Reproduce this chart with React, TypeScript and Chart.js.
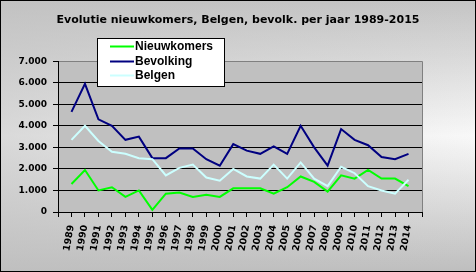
import React, { useEffect, useRef } from "react";
import { Chart, registerables } from "chart.js";

Chart.register(...registerables);

const years = ["1989","1990","1991","1992","1993","1994","1995","1996","1997","1998","1999","2000","2001","2002","2003","2004","2005","2006","2007","2008","2009","2010","2011","2012","2013","2014"];
const nieuwkomers = [1300,1950,1000,1150,700,1000,100,850,900,700,800,700,1100,1100,1100,850,1150,1650,1400,950,1700,1550,1950,1550,1550,1200];
const bevolking = [4650,5950,4300,4000,3350,3500,2500,2500,2950,2950,2450,2150,3150,2850,2700,3050,2700,4000,3000,2150,3850,3350,3100,2550,2450,2700];
const belgen = [3350,4000,3300,2800,2700,2500,2450,1700,2050,2200,1600,1450,2000,1650,1550,2200,1550,2300,1550,1200,2100,1800,1200,1000,850,1500];
const seriesNames = ["Nieuwkomers", "Bevolking", "Belgen"];
const seriesColors = ["#00ff00", "#000080", "#ccffff"];
const titleText = "Evolutie nieuwkomers, Belgen, bevolk. per jaar 1989-2015";

const fmt = (v: number) => String(v).replace(/\B(?=(\d{3})+(?!\d))/g, ".");

const decorPlugin = {
  id: "decor",
  beforeDraw(chart: any) {
    const { ctx, width, height, chartArea: a } = chart;
    ctx.save();
    const g = ctx.createLinearGradient(0, 0, 0, height);
    g.addColorStop(0, "#c4c4c4");
    g.addColorStop(0.5, "#f8f8f8");
    g.addColorStop(1, "#bebebe");
    ctx.fillStyle = g;
    ctx.fillRect(0, 0, width, height);
    const h = ctx.createLinearGradient(0, 0, width, 0);
    h.addColorStop(0, "rgba(192,192,192,0.55)");
    h.addColorStop(1, "rgba(192,192,192,0)");
    ctx.fillStyle = h;
    ctx.fillRect(0, 0, width, height);
    ctx.fillStyle = "#c0c0c0";
    ctx.fillRect(a.left, a.top, a.right - a.left, a.bottom - a.top);
    ctx.restore();
  },
  beforeDatasetsDraw(chart: any) {
    const { ctx, chartArea: a } = chart;
    ctx.save();
    ctx.strokeStyle = "#808080";
    ctx.lineWidth = 1;
    ctx.beginPath();
    ctx.moveTo(Math.round(a.left) + 1, Math.round(a.top) + 0.5);
    ctx.lineTo(Math.round(a.right) + 0.5, Math.round(a.top) + 0.5);
    ctx.lineTo(Math.round(a.right) + 0.5, Math.round(a.bottom));
    ctx.stroke();
    ctx.restore();
  },
  afterDraw(chart: any) {
    const { ctx, width, height } = chart;
    ctx.save();
    const bx = 97, by = 38, bw = 127, bh = 48;
    ctx.fillStyle = "#ffffff";
    ctx.fillRect(bx, by, bw, bh);
    ctx.strokeStyle = "#000000";
    ctx.lineWidth = 1;
    ctx.strokeRect(bx + 0.5, by + 0.5, bw, bh);
    const rows = [46.5, 61.5, 75.5];
    ctx.font = "bold 12px 'Liberation Sans', Arial, sans-serif";
    ctx.textBaseline = "middle";
    ctx.textAlign = "left";
    chart.data.datasets.forEach((ds: any, i: number) => {
      const y = rows[i];
      ctx.strokeStyle = ds.borderColor;
      ctx.lineWidth = 2;
      ctx.beginPath();
      ctx.moveTo(110, y);
      ctx.lineTo(134, y);
      ctx.stroke();
      ctx.fillStyle = "#000";
      ctx.fillText(ds.label, 135, y + 0.5);
    });
    ctx.strokeStyle = "#000";
    ctx.lineWidth = 1;
    ctx.strokeRect(0.5, 0.5, width - 1, height - 1);
    ctx.restore();
  },
};

export default function App() {
  const ref = useRef<HTMLCanvasElement | null>(null);
  useEffect(() => {
    document.body.style.margin = "0";
    const canvas = ref.current;
    if (!canvas) return;
    const labels = ["", ...years, ""];
    const pad = (arr: number[]) => [null, ...arr, null];
    const chart = new Chart(canvas, {
      type: "line",
      data: {
        labels,
        datasets: [
          { label: seriesNames[0], data: pad(nieuwkomers), borderColor: seriesColors[0], borderWidth: 2, pointRadius: 0, tension: 0, order: 2, yAxisID: "y" },
          { label: seriesNames[1], data: pad(bevolking), borderColor: seriesColors[1], borderWidth: 2, pointRadius: 0, tension: 0, order: 1, yAxisID: "y" },
          { label: seriesNames[2], data: pad(belgen), borderColor: seriesColors[2], borderWidth: 2, pointRadius: 0, tension: 0, order: 0, yAxisID: "y" },
        ],
      },
      options: {
        responsive: false,
        animation: false,
        devicePixelRatio: 1,
        layout: { padding: 0 },
        plugins: {
          legend: { display: false },
          tooltip: { enabled: false },
          title: {
            display: true,
            text: titleText,
            color: "#000",
            font: { family: "'DejaVu Sans'", size: 11, weight: "bold" },
            padding: { top: 14, bottom: 34 },
          },
        },
        scales: {
          x: {
            type: "category",
            offset: false,
            grid: { display: true, drawOnChartArea: false, drawTicks: true, tickLength: 5, color: "#000" },
            border: { display: true, color: "#000", width: 1 },
            ticks: {
              autoSkip: false,
              maxRotation: 80,
              minRotation: 80,
              padding: 7,
              color: "#000",
              font: { family: "'DejaVu Sans'", size: 9.5, weight: "bold" },
            },
            afterFit: (s: any) => { s.height = 60; },
          },
          y: {
            position: "left",
            min: 0,
            max: 7000,
            grid: { color: "#000", drawTicks: true, tickLength: 5 },
            border: { display: true, color: "#000", width: 1 },
            ticks: {
              stepSize: 1000,
              padding: 6,
              color: "#000",
              font: { family: "'DejaVu Sans'", size: 9, weight: "bold" },
              callback: (v: any) => fmt(Number(v)),
            },
            afterFit: (s: any) => { s.width = 58; },
          },
          yRight: {
            position: "right",
            min: 0,
            max: 7000,
            grid: { display: false, drawTicks: false },
            border: { display: false },
            ticks: { display: false },
            afterFit: (s: any) => { s.width = 54; },
          },
        },
      },
      plugins: [decorPlugin],
    } as any);
    return () => chart.destroy();
  }, []);
  return (
    <div style={{ position: "fixed", left: 0, top: 0, width: 476, height: 272 }}>
      <canvas ref={ref} width={476} height={272} style={{ display: "block", width: 476, height: 272 }} />
    </div>
  );
}
